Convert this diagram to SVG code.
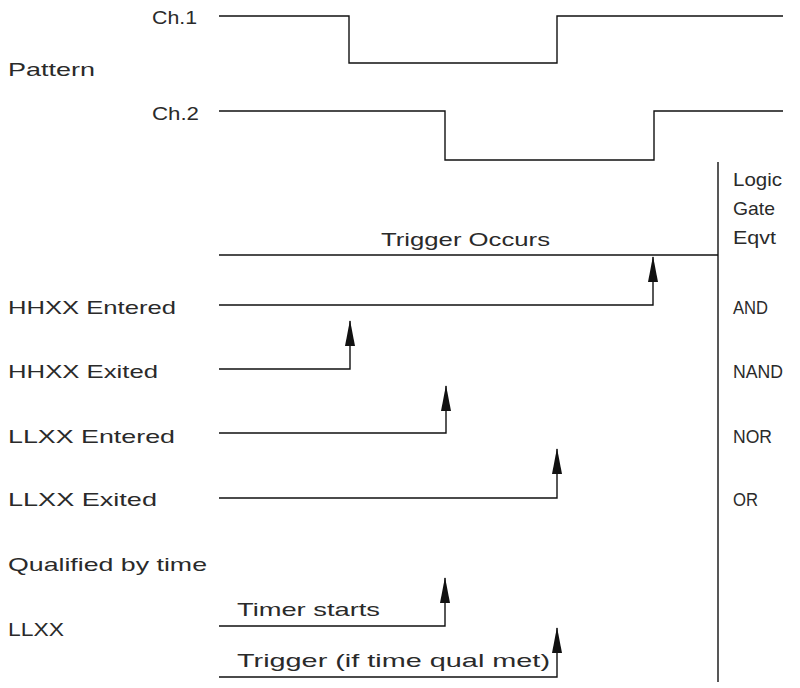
<svg xmlns="http://www.w3.org/2000/svg" width="800" height="688" viewBox="0 0 800 688">
<defs>
<style>
text{font-family:"Liberation Sans","DejaVu Sans",sans-serif;font-size:19px;fill:#2a2a2a}
.w{fill:none;stroke:#111;stroke-width:1.4}
.a{fill:#111}
</style>
<marker id="ah" markerWidth="26" markerHeight="12" refX="25" refY="6" orient="auto" markerUnits="userSpaceOnUse" viewBox="0 0 26 12"><path d="M26 6 L0 11 L0 1 Z" class="a"/></marker>
</defs>
<rect width="800" height="688" fill="#fff"/>
<g id="labels">
<text x="152" y="24" textLength="45" lengthAdjust="spacingAndGlyphs">Ch.1</text>
<text x="8" y="76" textLength="87" lengthAdjust="spacingAndGlyphs">Pattern</text>
<text x="152" y="120" textLength="47" lengthAdjust="spacingAndGlyphs">Ch.2</text>
<text x="381" y="246" textLength="169" lengthAdjust="spacingAndGlyphs">Trigger Occurs</text>
<text x="8" y="314" textLength="168" lengthAdjust="spacingAndGlyphs">HHXX Entered</text>
<text x="8" y="378" textLength="150" lengthAdjust="spacingAndGlyphs">HHXX Exited</text>
<text x="8" y="443" textLength="167" lengthAdjust="spacingAndGlyphs">LLXX Entered</text>
<text x="8" y="506" textLength="149" lengthAdjust="spacingAndGlyphs">LLXX Exited</text>
<text x="8" y="571" textLength="199" lengthAdjust="spacingAndGlyphs">Qualified by time</text>
<text x="8" y="636" textLength="56" lengthAdjust="spacingAndGlyphs">LLXX</text>
<text x="237" y="616" textLength="143" lengthAdjust="spacingAndGlyphs">Timer starts</text>
<text x="237" y="667" textLength="313" lengthAdjust="spacingAndGlyphs">Trigger (if time qual met)</text>
</g>
<g id="logic-column">
<text x="733" y="186" textLength="49" lengthAdjust="spacingAndGlyphs">Logic</text>
<text x="733" y="215" textLength="42" lengthAdjust="spacingAndGlyphs">Gate</text>
<text x="733" y="244" textLength="43" lengthAdjust="spacingAndGlyphs">Eqvt</text>
<text x="733" y="314" textLength="35" lengthAdjust="spacingAndGlyphs">AND</text>
<text x="733" y="378" textLength="50" lengthAdjust="spacingAndGlyphs">NAND</text>
<text x="733" y="443" textLength="39" lengthAdjust="spacingAndGlyphs">NOR</text>
<text x="733" y="506" textLength="25" lengthAdjust="spacingAndGlyphs">OR</text>
</g>
<g id="connectors">
<path class="w" d="M219 16 H349 V63 H557 V16 H783"/>
<path class="w" d="M219 111 H445 V160 H654 V111 H783"/>
<path class="w" d="M718 162 V682"/>
<path class="w" d="M219 255 H718"/>
<path class="w" d="M219 305 H653 V257" marker-end="url(#ah)"/>
<path class="w" d="M219 369 H350 V321" marker-end="url(#ah)"/>
<path class="w" d="M219 433 H446 V386" marker-end="url(#ah)"/>
<path class="w" d="M219 498 H557 V449" marker-end="url(#ah)"/>
<path class="w" d="M219 626 H445 V578" marker-end="url(#ah)"/>
<path class="w" d="M219 677 H557 V628" marker-end="url(#ah)"/>
</g>
</svg>
